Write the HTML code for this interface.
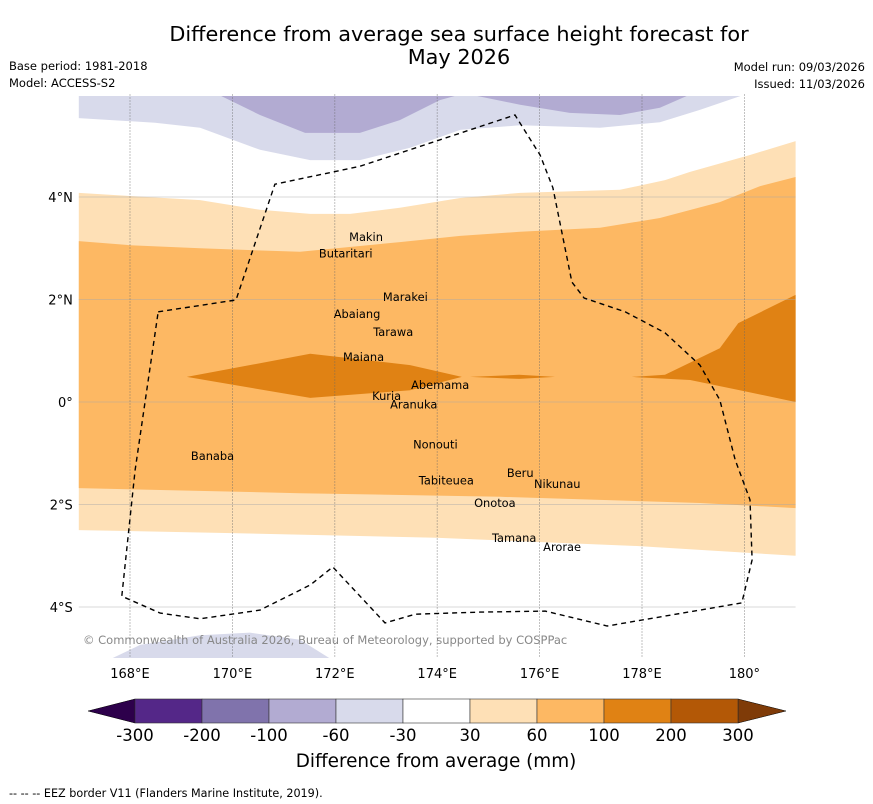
<!DOCTYPE html>
<html><head><meta charset="utf-8"><style>
body{margin:0;background:#fff;font-family:"DejaVu Sans","Liberation Sans",sans-serif;}
#wrap{position:relative;width:873px;height:804px;overflow:hidden;}
</style></head><body>
<div id="wrap">
<svg id="svg" width="873" height="804" xmlns="http://www.w3.org/2000/svg" font-family="DejaVu Sans, Liberation Sans, sans-serif">
<text x="459" y="41" font-size="20.8" text-anchor="middle">Difference from average sea surface height forecast for</text>
<text x="459" y="64" font-size="20.8" text-anchor="middle">May 2026</text>
<text x="9" y="70" font-size="11.5">Base period: 1981-2018</text>
<text x="9" y="87" font-size="11.5">Model: ACCESS-S2</text>
<text x="865" y="71" font-size="11.5" text-anchor="end">Model run: 09/03/2026</text>
<text x="865" y="88" font-size="11.5" text-anchor="end">Issued: 11/03/2026</text>
<defs><clipPath id="mapclip"><rect x="78" y="96" width="718" height="562"/></clipPath></defs>
<g id="map" clip-path="url(#mapclip)"></g>
<g id="overlay"></g>
<g id="cbar"></g>
<text x="436" y="767" font-size="18.4" text-anchor="middle">Difference from average (mm)</text>
<text x="9" y="797" font-size="11.2">--  --  -- EEZ border V11 (Flanders Marine Institute, 2019).</text>
</svg>
</div>
<script>
const NS='http://www.w3.org/2000/svg';
// axes
const lonTicks=[168,170,172,174,176,178,180];
const lonLabels=['168°E','170°E','172°E','174°E','176°E','178°E','180°'];
const latTicks=[4,2,0,-2,-4];
const latLabels=['4°N','2°N','0°','2°S','4°S'];
const lonMin=167, lonMax=181, latMax=6, latMin=-5;
function X(lon){return 130+(lon-168)*51.2;}
function Y(lat){return 402-lat*51.25;}
// contour bands (lon,lat)
const purpleLightTop=[[167,5.54],[168.49,5.45],[169.37,5.35],[170.54,4.92],[171.52,4.72],[172.49,4.72],[173.47,4.96],[174.45,5.31],[175.62,5.4],[177.18,5.35],[178.35,5.46],[179.13,5.7],[180.01,6],[167,6]];
const purpleMidA=[[169.72,6],[170.54,5.6],[171.42,5.25],[172.49,5.25],[173.27,5.5],[174.05,5.89],[174.45,6]];
const purpleMidB=[[174.64,6],[175.62,5.8],[176.59,5.64],[177.57,5.6],[178.35,5.74],[178.94,6]];
const purpleLightBottom=[[167.65,-5],[168.2,-4.74],[169.37,-4.55],[170.34,-4.5],[171.32,-4.64],[171.9,-5]];
const lightOrangeTop=[[167,4.08],[168,4.02],[169.37,3.94],[170.54,3.75],[171.52,3.67],[172.3,3.67],[173.27,3.79],[174.45,3.98],[175.62,4.08],[177.57,4.14],[178.45,4.33],[178.94,4.49],[180.11,4.82],[181,5.09]];
const lightOrangeBottom=[[181,-3.0],[177.9,-2.81],[173.98,-2.65],[170.1,-2.56],[167,-2.5]];
const midOrangeTop=[[167,3.14],[168,3.06],[169.37,3.0],[171.32,2.93],[173.27,3.12],[174.45,3.24],[175.62,3.32],[177.18,3.4],[178.35,3.59],[179.52,3.9],[180.3,4.21],[181,4.39]];
const midOrangeBottom=[[181,-2.07],[179.13,-1.97],[175.23,-1.85],[171.32,-1.78],[167,-1.68]];
const darkOrangeA=[[169.11,0.49],[171.52,0.94],[173.47,0.72],[174.48,0.49],[173.47,0.23],[171.52,0.08]];
const darkOrangeB=[[174.64,0.49],[175.6,0.53],[176.3,0.49],[175.6,0.45]];
const darkOrangeC=[[177.8,0.49],[178.45,0.53],[179.52,1.05],[179.88,1.54],[181,2.09],[181,0],[179.91,0.23],[178.94,0.43]];
const eez=[[168.55,1.76],[170.07,1.99],[170.83,4.25],[172.49,4.6],[175.52,5.6],[176.01,4.82],[176.26,4.18],[176.63,2.34],[176.87,2.03],[177.67,1.76],[178.45,1.35],[179.13,0.72],[179.52,0.04],[179.82,-1.13],[180.11,-1.91],[180.15,-3.08],[179.95,-3.92],[177.32,-4.37],[176.11,-4.08],[174.84,-4.1],[173.57,-4.14],[172.98,-4.31],[171.96,-3.22],[171.52,-3.57],[170.54,-4.06],[169.37,-4.23],[168.59,-4.12],[167.84,-3.79],[168.1,-1.33],[168.55,1.76]];
const islandNames=['Makin','Butaritari','Marakei','Abaiang','Tarawa','Maiana','Abemama','Kuria','Aranuka','Nonouti','Banaba','Beru','Nikunau','Tabiteuea','Onotoa','Tamana','Arorae'];
const islandLon=[172.28,171.69,172.94,171.98,172.75,172.16,173.49,172.73,173.08,173.53,169.19,175.36,175.89,173.64,174.72,175.07,176.07];
const islandLat=[3.22,2.9,2.05,1.72,1.37,0.88,0.33,0.12,-0.05,-0.83,-1.05,-1.39,-1.6,-1.53,-1.97,-2.65,-2.83];
const cbColors=['#542788','#8073ac','#b2abd2','#d8daeb','#ffffff','#fee0b6','#fdb863','#e08214','#b35806'];
const cbLabels=['-300','-200','-100','-60','-30','30','60','100','200','300'];

const map=document.getElementById('map'),ov=document.getElementById('overlay'),cb=document.getElementById('cbar');
function pts(a){return a.map(p=>X(p[0]).toFixed(1)+','+Y(p[1]).toFixed(1)).join(' ');}
function poly(parent,a,fill,name){const e=document.createElementNS(NS,'polygon');e.setAttribute('points',pts(a));e.setAttribute('fill',fill);


parent.appendChild(e);return e;}
const bg=document.createElementNS(NS,'rect');bg.setAttribute('x',X(lonMin));bg.setAttribute('y',Y(latMax));bg.setAttribute('width',X(lonMax)-X(lonMin));bg.setAttribute('height',Y(latMin)-Y(latMax));bg.setAttribute('fill','#fff');


map.appendChild(bg);
poly(map,purpleLightTop,'#d8daeb','band-minus30-north');
poly(map,purpleMidA,'#b2abd2','band-minus60-a');
poly(map,purpleMidB,'#b2abd2','band-minus60-b');
poly(map,purpleLightBottom,'#d8daeb','band-minus30-south');
poly(map,lightOrangeTop.concat(lightOrangeBottom),'#fee0b6','band-30-60');
poly(map,midOrangeTop.concat(midOrangeBottom),'#fdb863','band-60-100');
poly(map,darkOrangeA,'#e08214','band-100-200-west');
poly(map,darkOrangeB,'#e08214','band-100-200-mid');
poly(map,darkOrangeC,'#e08214','band-100-200-east');
// gridlines
latTicks.forEach((t,i)=>{const l=document.createElementNS(NS,'line');l.setAttribute('x1',X(lonMin));l.setAttribute('x2',X(lonMax));l.setAttribute('y1',Y(t));l.setAttribute('y2',Y(t));l.setAttribute('stroke','#aaa');l.setAttribute('stroke-width','0.8');l.setAttribute('opacity','0.6');


ov.appendChild(l);
const tx=document.createElementNS(NS,'text');tx.setAttribute('x',X(lonMin)-6);tx.setAttribute('y',Y(t)+5);tx.setAttribute('font-size','13');tx.setAttribute('text-anchor','end');tx.textContent=latLabels[i];


ov.appendChild(tx);});
lonTicks.forEach((t,i)=>{const l=document.createElementNS(NS,'line');l.setAttribute('x1',X(t));l.setAttribute('x2',X(t));l.setAttribute('y1',Y(latMax));l.setAttribute('y2',Y(latMin));l.setAttribute('stroke','#666');l.setAttribute('stroke-width','0.8');l.setAttribute('stroke-dasharray','1,2');


ov.appendChild(l);
const tx=document.createElementNS(NS,'text');tx.setAttribute('x',X(t));tx.setAttribute('y',678);tx.setAttribute('font-size','13');tx.setAttribute('text-anchor','middle');tx.textContent=lonLabels[i];


ov.appendChild(tx);});
// EEZ
const pl=document.createElementNS(NS,'polyline');pl.setAttribute('points',pts(eez));pl.setAttribute('fill','none');pl.setAttribute('stroke','#000');pl.setAttribute('stroke-width','1.4');pl.setAttribute('stroke-dasharray','5,4');


ov.appendChild(pl);
// islands
islandNames.forEach((n,i)=>{const tx=document.createElementNS(NS,'text');tx.setAttribute('x',X(islandLon[i]));tx.setAttribute('y',Y(islandLat[i])+4);tx.setAttribute('font-size','11.4');tx.setAttribute('text-anchor','start');tx.textContent=n;


ov.appendChild(tx);});
const cr=document.createElementNS(NS,'text');cr.setAttribute('x',83);cr.setAttribute('y',644);cr.setAttribute('font-size','11.5');cr.setAttribute('fill','#888');cr.textContent='© Commonwealth of Australia 2026, Bureau of Meteorology, supported by COSPPac';


ov.appendChild(cr);
// colorbar
const cbX0=135,cbX1=738,cbY=699,cbH=24,w=(cbX1-cbX0)/cbColors.length;
const lt=document.createElementNS(NS,'polygon');lt.setAttribute('points',`${cbX0},${cbY} ${cbX0},${cbY+cbH} 88,${cbY+cbH/2}`);lt.setAttribute('fill','#2d004b');lt.setAttribute('stroke','#000');lt.setAttribute('stroke-width','0.5');


cb.appendChild(lt);
const rt=document.createElementNS(NS,'polygon');rt.setAttribute('points',`${cbX1},${cbY} ${cbX1},${cbY+cbH} 786,${cbY+cbH/2}`);rt.setAttribute('fill','#7f3b08');rt.setAttribute('stroke','#000');rt.setAttribute('stroke-width','0.5');


cb.appendChild(rt);
cbColors.forEach((c,i)=>{const r=document.createElementNS(NS,'rect');r.setAttribute('x',cbX0+i*w);r.setAttribute('y',cbY);r.setAttribute('width',w);r.setAttribute('height',cbH);r.setAttribute('fill',c);r.setAttribute('stroke','#333');r.setAttribute('stroke-width','0.6');


cb.appendChild(r);});
cbLabels.forEach((s,i)=>{const tx=document.createElementNS(NS,'text');tx.setAttribute('x',cbX0+i*w);tx.setAttribute('y',741);tx.setAttribute('font-size','16.5');tx.setAttribute('text-anchor','middle');tx.textContent=s;


cb.appendChild(tx);});
</script>
</body></html>
